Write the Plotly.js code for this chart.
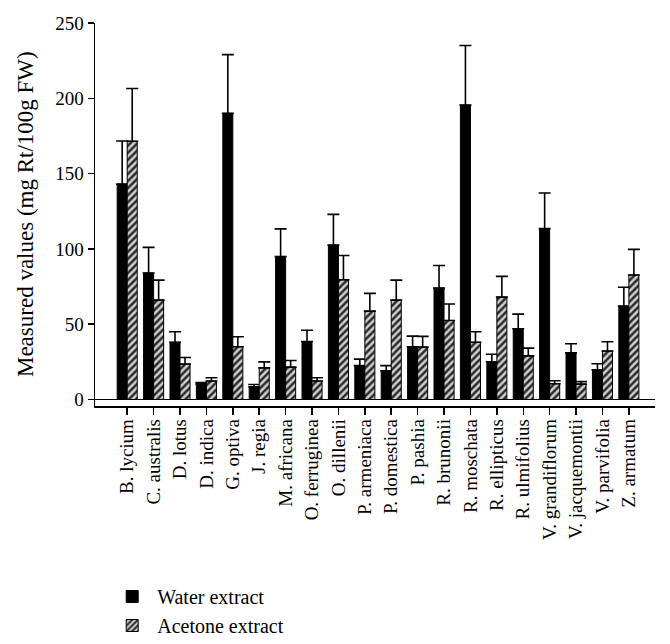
<!DOCTYPE html>
<html>
<head>
<meta charset="utf-8">
<script src="https://cdn.plot.ly/plotly-3.0.1.min.js"></script>
<style>html,body{margin:0;padding:0;background:#fff;}#chart{width:670px;height:644px;}</style>
</head>
<body>
<div id="chart"></div>
<script>
const species = ["B. lycium","C. australis","D. lotus","D. indica","G. optiva","J. regia","M. africana","O. ferruginea","O. dillenii","P. armeniaca","P. domestica","P. pashia","R. brunonii","R. moschata","R. ellipticus","R. ulmifolius","V. grandiflorum","V. jacquemontii","V. parvifolia","Z. armatum"];
const waterValues = [143, 84, 38, 10.3, 190, 8.5, 95, 38.5, 102.5, 22.5, 19, 35, 74, 195.5, 25, 47, 113.5, 31, 19.8, 62];
const waterErrors = [28.7, 17, 7, 1, 39, 1.5, 18.3, 7.5, 20.4, 4.3, 3.5, 7.1, 15, 39.6, 5.1, 9.7, 23.6, 6, 4, 12.5];
const acetoneValues = [171.5, 66, 23.5, 12.3, 35, 21, 21.5, 12.3, 79.5, 58.7, 66, 34.8, 52.5, 38, 68, 29, 10.5, 10.2, 32.2, 82.7];
const acetoneErrors = [35, 13.3, 4.4, 2.2, 6.7, 4, 4.4, 2.2, 16.1, 11.8, 13.3, 7.1, 10.9, 7, 13.8, 5.1, 2, 1.7, 6.2, 17];
const zeros = species.map(() => 0);
const yTicks = [0, 50, 100, 150, 200, 250];
const yTitle = "Measured values (mg Rt/100g FW)";

const serif = "Liberation Serif, Times New Roman, serif";

const water = {
  type: "bar", name: "Water extract", x: species, y: waterValues,
  marker: {color: "#000000", line: {color: "#000000", width: 1}},
  error_y: {type: "data", symmetric: false, array: waterErrors, arrayminus: zeros, color: "#000000", thickness: 1.6, width: 6}
};
const acetone = {
  type: "bar", name: "Acetone extract", x: species, y: acetoneValues,
  marker: {color: "#d0d0d0", line: {color: "#000000", width: 1},
    pattern: {shape: "/", fgcolor: "#2a2a2a", bgcolor: "#d0d0d0", size: 5, solidity: 0.5}},
  error_y: {type: "data", symmetric: false, array: acetoneErrors, arrayminus: zeros, color: "#000000", thickness: 1.6, width: 6}
};

const layout = {
  width: 670, height: 644,
  margin: {l: 95, r: 15, t: 22.7, b: 238, autoexpand: false},
  paper_bgcolor: "#ffffff", plot_bgcolor: "#ffffff",
  font: {family: serif, color: "#000000", size: 18},
  barmode: "group", bargap: 0.24, bargroupgap: 0,
  showlegend: true,
  legend: {xref: "container", yref: "container", x: 0.16, y: 0.104, xanchor: "left", yanchor: "top",
    font: {family: serif, size: 20}, bgcolor: "rgba(0,0,0,0)", tracegroupgap: 0, itemwidth: 40},
  xaxis: {
    type: "category", domain: [0, 1], automargin: false,
    range: [-1.22, 19.99], tickmode: "linear", dtick: 1,
    showline: true, linecolor: "#000000", linewidth: 1.5,
    ticks: "outside", ticklen: 7, tickwidth: 1.5, tickcolor: "#000000",
    ticklabelstandoff: -3,
    tickangle: -90, tickfont: {family: serif, size: 19}, showgrid: false, zeroline: false
  },
  yaxis: {
    domain: [0, 1], automargin: false,
    range: [-4.3, 250], tickvals: yTicks,
    showline: true, linecolor: "#000000", linewidth: 1.5,
    ticks: "outside", ticklen: 6, tickwidth: 1.5, tickcolor: "#000000",
    tickfont: {family: serif, size: 19}, showgrid: false,
    zeroline: true, zerolinecolor: "#000000", zerolinewidth: 1.5
  },
  annotations: [{
    text: yTitle, textangle: -90, showarrow: false,
    xref: "paper", yref: "paper", x: -0.124, y: 0.5, xanchor: "center", yanchor: "middle",
    font: {family: serif, size: 23, color: "#000000"}
  }]
};

Plotly.newPlot("chart", [water, acetone], layout, {displayModeBar: false, staticPlot: true});
</script>
</body>
</html>
